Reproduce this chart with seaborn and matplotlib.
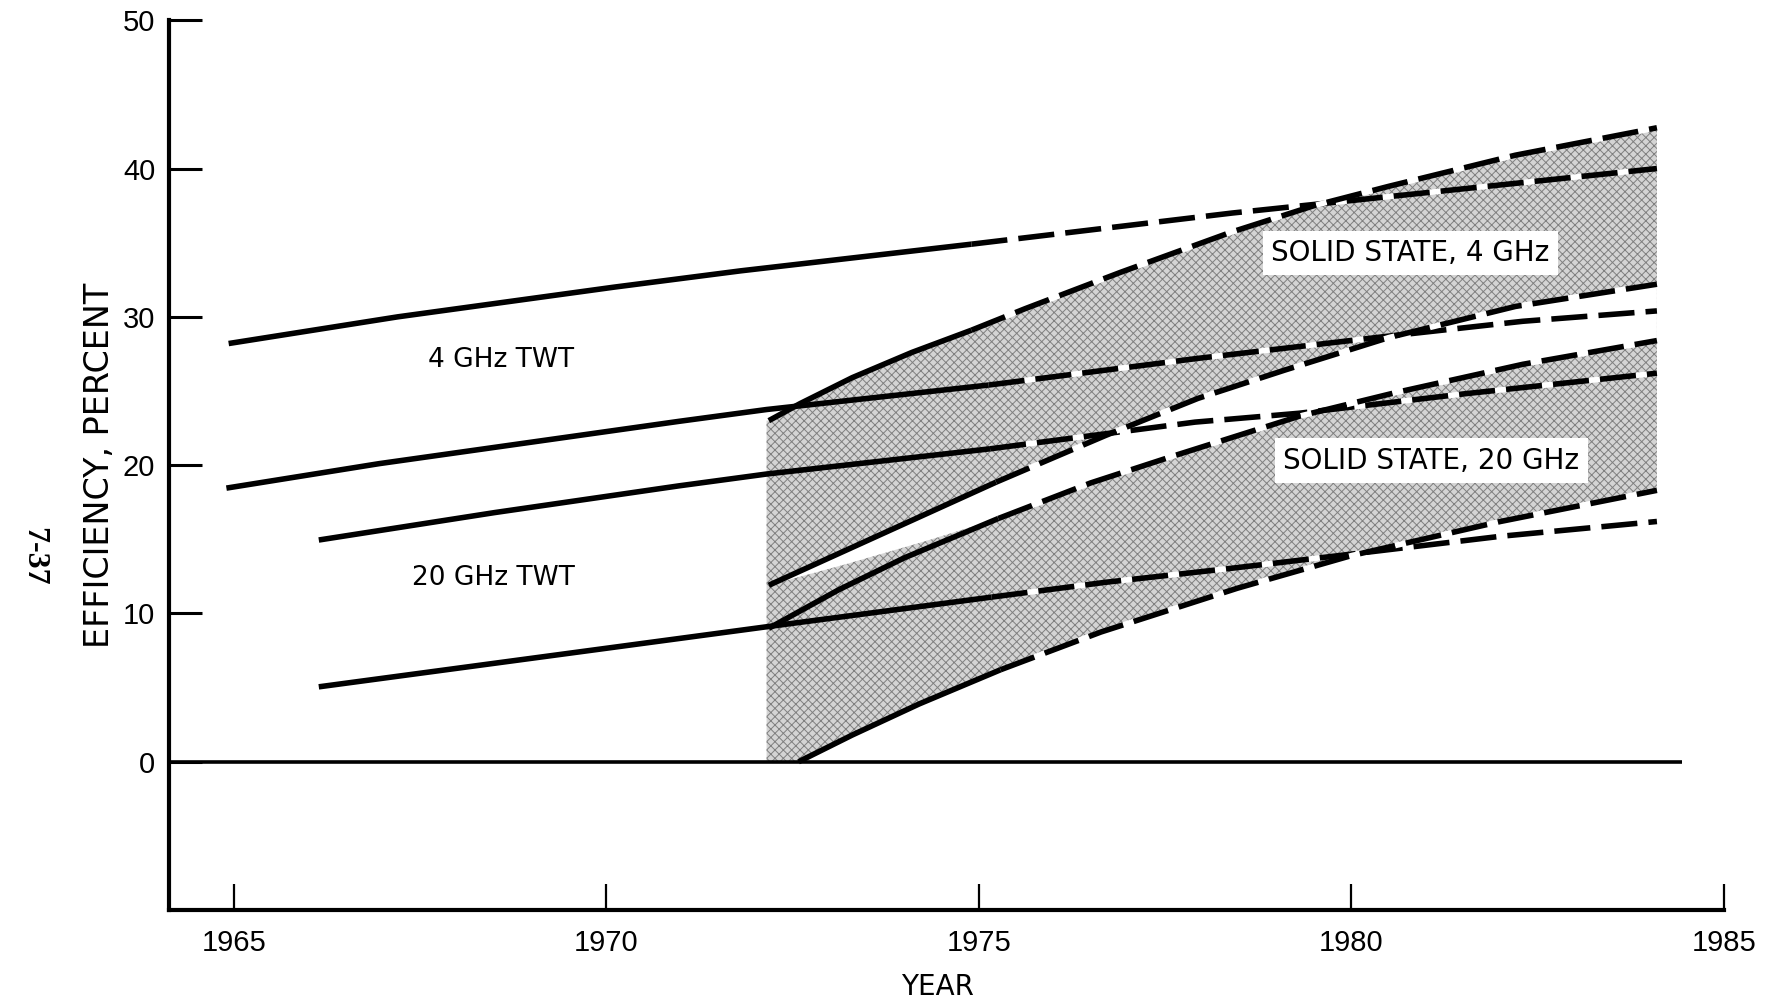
import numpy as np
import matplotlib
matplotlib.use("Agg")
import matplotlib.pyplot as plt
import seaborn as sns

# ---------------- data: efficiency (percent) versus year ----------------
# travelling-wave tubes
twt4_hi_years = [1964.93, 1967.2, 1970.1, 1971.8, 1974.9, 1978.4, 1984.1]
twt4_hi_vals = [28.2, 30.0, 32.0, 33.1, 34.9, 37.0, 40.0]

twt4_lo_years = [1964.9, 1966.95, 1970.97, 1972.15, 1975.13, 1977.94, 1980.5, 1982.3, 1984.1]
twt4_lo_vals = [18.45, 20.1, 22.95, 23.75, 25.4, 27.2, 28.7, 29.7, 30.4]

twt20_hi_years = [1966.14, 1968.5, 1970.97, 1972.15, 1975.15, 1977.9, 1979.3, 1981.5, 1984.1]
twt20_hi_vals = [14.95, 16.8, 18.6, 19.4, 21.1, 22.9, 23.5, 24.8, 26.2]

twt20_lo_years = [1966.14, 1972.15, 1975.17, 1976.7, 1978.4, 1980.0, 1982.0, 1984.1]
twt20_lo_vals = [5.05, 9.1, 11.1, 12.1, 13.05, 14.0, 15.2, 16.2]

# solid-state bands
ss4_hi_years = [1972.18, 1972.6, 1973.3, 1974.1, 1974.9, 1975.62, 1976.9, 1978.38, 1979.5, 1980.5, 1982.2, 1984.1]
ss4_hi_vals = [23.0, 24.15, 25.9, 27.6, 29.1, 30.55, 33.0, 35.7, 37.5, 38.8, 40.9, 42.75]

ss4_lo_years = [1972.18, 1975.23, 1976.7, 1977.94, 1979.1, 1980.5, 1982.2, 1984.1]
ss4_lo_vals = [11.9, 18.85, 22.0, 24.5, 26.4, 28.6, 30.7, 32.2]

ss20_hi_years = [1972.18, 1973.12, 1974.0, 1975.26, 1976.5, 1977.6, 1979.3, 1980.6, 1982.3, 1984.1]
ss20_hi_vals = [9.0, 11.6, 13.75, 16.4, 18.8, 20.6, 23.3, 24.9, 26.8, 28.4]

ss20_lo_years = [1972.58, 1973.3, 1974.2, 1975.29, 1976.64, 1977.54, 1978.47, 1980.0, 1982.0, 1984.1]
ss20_lo_vals = [0.0, 1.8, 3.9, 6.2, 8.75, 10.2, 11.7, 13.9, 16.2, 18.3]

# lower edge of the clear strip between the two bands, before it meets the 20 GHz curve
gap_floor_years = [1972.18, 1973.2, 1974.3]
gap_floor_vals = [11.9, 13.3, 14.9]

band_start_year = 1972.15      # left edge of the shaded area
present_year = 1975.3          # measured values up to here, projections after
zero_line_end = 1984.43

x_ticks = [1965, 1970, 1975, 1980, 1985]
y_ticks = [0, 10, 20, 30, 40, 50]

curves = [
    (twt4_hi_years, twt4_hi_vals),
    (twt4_lo_years, twt4_lo_vals),
    (twt20_hi_years, twt20_hi_vals),
    (twt20_lo_years, twt20_lo_vals),
    (ss4_hi_years, ss4_hi_vals),
    (ss4_lo_years, ss4_lo_vals),
    (ss20_hi_years, ss20_hi_vals),
    (ss20_lo_years, ss20_lo_vals),
]

# ---------------- styling ----------------
sns.set_theme(style="white")
plt.rcParams["font.family"] = ["DejaVu Sans"]
plt.rcParams["text.color"] = "black"
plt.rcParams["axes.labelcolor"] = "black"
plt.rcParams["xtick.color"] = "black"
plt.rcParams["ytick.color"] = "black"
plt.rcParams["hatch.linewidth"] = 0.7
tick_font = ["Liberation Sans Narrow", "Liberation Sans", "DejaVu Sans"]

fig = plt.figure(figsize=(17.7, 10.02), dpi=100)
ax = fig.add_axes([0.0955, 0.0918, 0.8785, 0.888])
ax.set_xlim(1964.13, 1985.0)
ax.set_ylim(-10, 50)

# ---------------- shaded region covering both solid-state bands ----------------
shade_x = ([band_start_year] + ss4_hi_years + ss20_lo_years[::-1] + [band_start_year])
shade_y = ([ss4_hi_vals[0]] + ss4_hi_vals + ss20_lo_vals[::-1] + [0.0])
ax.fill(shade_x, shade_y, facecolor="#d4d4d4", edgecolor="#808080",
        hatch="xxxx", linewidth=0, zorder=1)

# clear strip between the 4 GHz and 20 GHz bands
floor_x = gap_floor_years + [y for y in ss20_hi_years if y > gap_floor_years[-1]]
floor_y = gap_floor_vals + [v for y, v in zip(ss20_hi_years, ss20_hi_vals) if y > gap_floor_years[-1]]
gap_x = ss4_lo_years + floor_x[::-1]
gap_y = ss4_lo_vals + floor_y[::-1]
ax.fill(gap_x, gap_y, facecolor="white", edgecolor="none", linewidth=0, zorder=1.5)

# zero reference line
ax.hlines(0, ax.get_xlim()[0], zero_line_end, color="black", lw=2.6, zorder=2)

# ---------------- curves: solid = measured, dashed = projected ----------------
lw = 4.0
for years, vals in curves:
    years = np.asarray(years)
    vals = np.asarray(vals)
    solid = years <= present_year
    k = int(solid.sum())
    sns.lineplot(x=years[:k], y=vals[:k], ax=ax, color="black", lw=lw,
                 estimator=None, sort=False, legend=False, zorder=3,
                 solid_capstyle="butt", solid_joinstyle="round")
    sns.lineplot(x=years[k - 1:], y=vals[k - 1:], ax=ax, color="black", lw=lw,
                 linestyle=(0, (6.5, 2.0)), gapcolor="white",
                 estimator=None, sort=False, legend=False, zorder=3)

# ---------------- labels ----------------
ax.text(1968.59, 27.1, "4 GHz TWT", ha="center", va="center", fontsize=19, zorder=4)
ax.text(1968.48, 12.4, "20 GHz TWT", ha="center", va="center", fontsize=19, zorder=4)
box = dict(facecolor="white", edgecolor="none", pad=6)
ax.text(1980.79, 34.3, "SOLID STATE, 4 GHz", ha="center", va="center",
        fontsize=20, bbox=box, zorder=4)
ax.text(1981.07, 20.3, "SOLID STATE, 20 GHz", ha="center", va="center",
        fontsize=20, bbox=box, zorder=4)

# ---------------- axes ----------------
for side in ("top", "right"):
    ax.spines[side].set_visible(False)
for side in ("left", "bottom"):
    ax.spines[side].set_color("black")
    ax.spines[side].set_linewidth(3.0)

ax.set_xticks(x_ticks)
ax.set_yticks(y_ticks)
ax.tick_params(axis="y", direction="in", length=24, width=2.2, pad=10,
               labelsize=21, colors="black", left=True)
ax.tick_params(axis="x", direction="in", length=19, width=1.6, pad=14,
               labelsize=21, colors="black", bottom=True)
for lab in ax.get_xticklabels() + ax.get_yticklabels():
    lab.set_family(tick_font)

ax.set_xlabel("YEAR", fontsize=20, color="black")
ax.set_ylabel("EFFICIENCY, PERCENT", fontsize=24, color="black")
ax.xaxis.set_label_coords(0.494, -0.071)
ax.yaxis.set_label_coords(-0.034, 0.5)

fig.text(0.0192, 0.445, "7-37", rotation=-90, ha="center", va="center",
         fontsize=23, weight="bold", family=["Liberation Serif", "DejaVu Serif"])

fig.savefig("out.png", dpi=100, facecolor="white")
